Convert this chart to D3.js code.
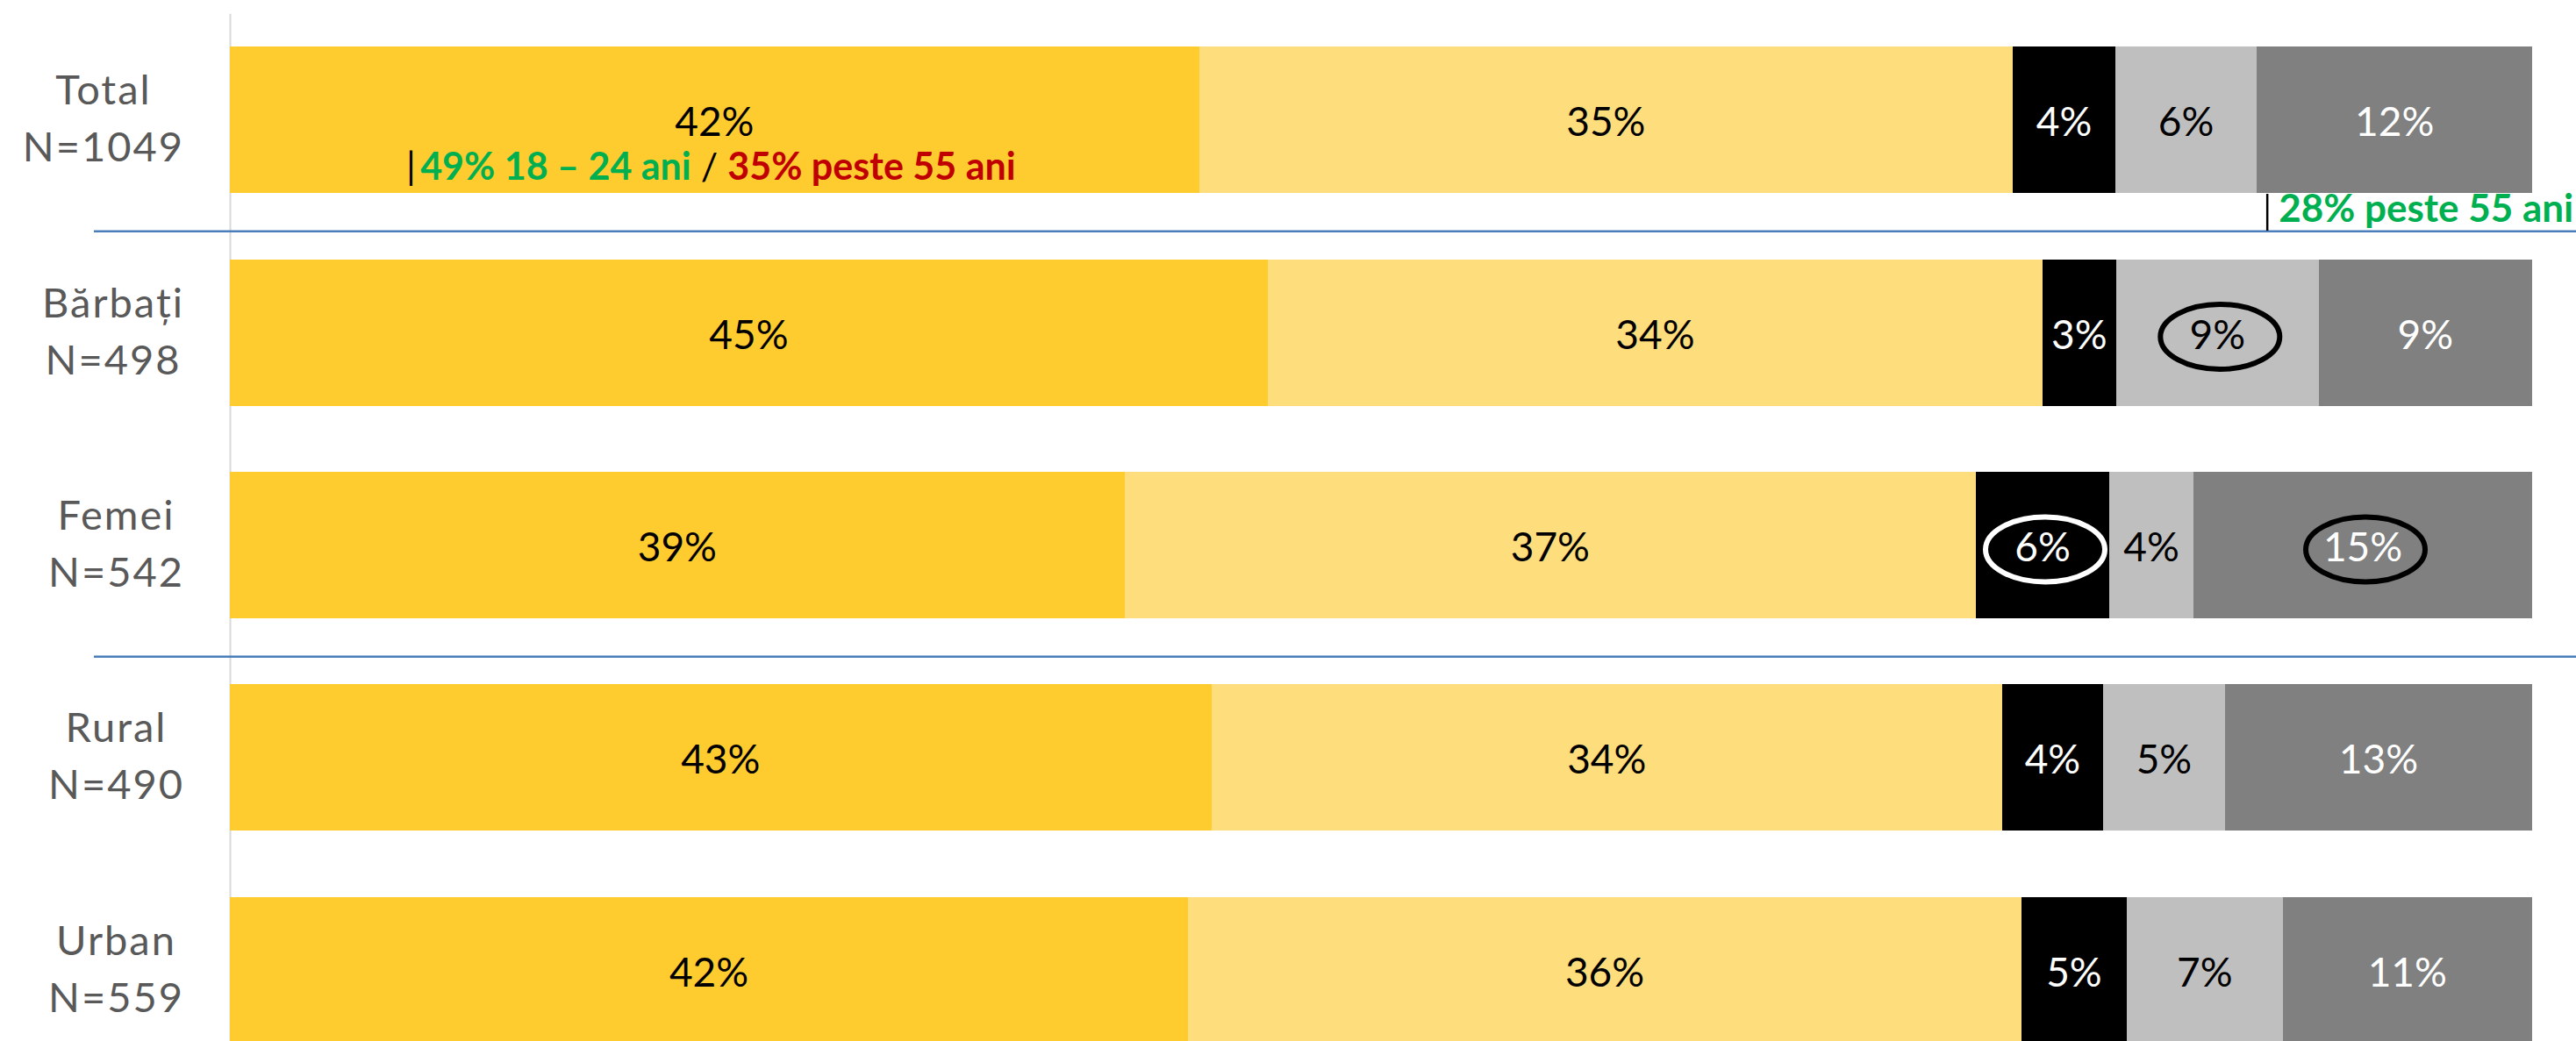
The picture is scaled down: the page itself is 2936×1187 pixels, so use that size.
<!DOCTYPE html>
<html><head><meta charset="utf-8">
<script src="https://cdn.jsdelivr.net/npm/d3@7"></script>
<style>html,body{margin:0;padding:0;background:#fff;} svg{display:block;}</style>
</head><body><svg id="c" width="2936" height="1187"></svg>
<script>
// ---- data ----
const categories = ["Total", "Bărbați", "Femei", "Rural", "Urban"];
const sampleSizes = ["N=1049", "N=498", "N=542", "N=490", "N=559"];
const seriesKeys = ["s1", "s2", "s3", "s4", "s5"];
const s1 = [42.10, 45.08, 38.86, 42.63, 41.62];
const s2 = [35.34, 33.65, 36.98, 34.35, 36.20];
const s3 = [4.46, 3.20, 5.79, 4.38, 4.57];
const s4 = [6.14, 8.80, 3.66, 5.30, 6.78];
const s5 = [11.97, 9.26, 14.71, 13.34, 10.82];
const seriesColors = ["#FECC2F", "#FEDE7C", "#000000", "#BFBFBF", "#808080"];
const labelColors = ["#000000", "#000000", "#FFFFFF", "#000000", "#FFFFFF"];
const separatorsAfter = ["Total", "Femei"];
const highlights = [
  {cat: "Bărbați", series: "s4", stroke: "#000000"},
  {cat: "Femei", series: "s3", stroke: "#FFFFFF"},
  {cat: "Femei", series: "s5", stroke: "#000000"}
];
const noteInside = [
  {text: "|\u2009", color: "#000000"},
  {text: "49% 18 – 24 ani", color: "#00B050"},
  {text: " / ", color: "#000000"},
  {text: "35% peste 55 ani", color: "#C00000"}
];
const noteBelow = "28% peste 55 ani";
const noteBelowColor = "#00B050";

// ---- build ----
const W = 2936, H = 1187;
const svg = d3.select("#c");
svg.append("rect").attr("width", W).attr("height", H).attr("fill", "#fff");

const seriesArrays = [s1, s2, s3, s4, s5];
const table = categories.map((c, i) => {
  const o = {cat: c, n: sampleSizes[i]};
  seriesKeys.forEach((k, j) => o[k] = seriesArrays[j][i]);
  return o;
});
const stacked = d3.stack().keys(seriesKeys)(table);

const x = d3.scaleLinear().domain([0, 100]).range([262, 2886]);
const y = d3.scaleBand().domain(categories).range([15.25, 1227.75])
  .paddingInner(0.3113).paddingOuter(0.1557);
const bw = y.bandwidth();
const color = d3.scaleOrdinal().domain(seriesKeys).range(seriesColors);
const lblColor = d3.scaleOrdinal().domain(seriesKeys).range(labelColors);

// axis (category axis line)
const axisG = svg.append("g").attr("transform", `translate(${x(0)},0)`)
  .call(d3.axisLeft(y).tickSize(0).tickFormat(""));
axisG.select(".domain").attr("stroke", "#D9D9D9").attr("stroke-width", 2);

// separators
separatorsAfter.forEach(c => {
  const i = categories.indexOf(c);
  const yy = (y(c) + bw + y(categories[i + 1])) / 2 + 6;
  svg.append("line").attr("x1", 107).attr("x2", W).attr("y1", yy).attr("y2", yy)
    .attr("stroke", "#4A7EBB").attr("stroke-width", 2.5);
});

// bars
const layers = svg.append("g").selectAll("g").data(stacked).join("g")
  .attr("fill", d => color(d.key));
layers.selectAll("rect").data(d => d).join("rect")
  .attr("x", d => x(d[0])).attr("y", d => y(d.data.cat))
  .attr("width", d => x(d[1]) - x(d[0])).attr("height", bw)
  .attr("shape-rendering", "crispEdges");

// value labels
const font = "Lato, 'Open Sans', sans-serif";
const lab = svg.append("g").attr("font-family", font).attr("font-size", 46).attr("text-anchor", "middle");
stacked.forEach(layer => {
  layer.forEach(d => {
    lab.append("text")
      .attr("x", (x(d[0]) + x(d[1])) / 2)
      .attr("y", y(d.data.cat) + bw / 2 + 18.5)
      .attr("fill", lblColor(layer.key))
      .text(Math.round(d.data[layer.key]) + "%");
  });
});

// highlight ellipses
highlights.forEach(h => {
  const layer = stacked.find(l => l.key === h.series);
  const d = layer.find(v => v.data.cat === h.cat);
  svg.append("ellipse")
    .attr("cx", (x(d[0]) + x(d[1])) / 2 + 3)
    .attr("cy", y(h.cat) + bw / 2 + 5)
    .attr("rx", 68).attr("ry", 37)
    .attr("fill", "none").attr("stroke", h.stroke).attr("stroke-width", 6);
});

// category labels (two lines, block right-aligned, lines centred)
const catG = svg.append("g").attr("font-family", font).attr("font-size", 47)
  .attr("fill", "#595959").attr("letter-spacing", 2).attr("text-anchor", "middle");
table.forEach(r => {
  const cy = y(r.cat) + bw / 2;
  const t1 = catG.append("text").attr("y", cy - 17.5).text(r.cat);
  const t2 = catG.append("text").attr("y", cy + 47.5).text(r.n);
  const wmax = Math.max(t1.node().getComputedTextLength(), t2.node().getComputedTextLength());
  const cx = 210 - wmax / 2;
  t1.attr("x", cx); t2.attr("x", cx);
});

// note inside Total yellow segment
const tot = stacked[0].find(v => v.data.cat === "Total");
const note = svg.append("text").attr("font-family", font).attr("font-weight", "bold")
  .attr("font-size", 43).attr("text-anchor", "middle")
  .attr("x", (x(tot[0]) + x(tot[1])) / 2 - 4)
  .attr("y", y("Total") + bw - 15);
noteInside.forEach(p => {
  note.append("tspan").attr("fill", p.color)
    .attr("font-weight", p.color === "#000000" ? "normal" : "bold")
    .text(p.text);
});

// note below Total dark-gray segment
const dg = stacked[4].find(v => v.data.cat === "Total");
const nx = x(dg[0]) + 12;
const ny = y("Total") + bw;
svg.append("line").attr("x1", nx).attr("x2", nx).attr("y1", ny + 1).attr("y2", ny + 43)
  .attr("stroke", "#000").attr("stroke-width", 2.5);
svg.append("text").attr("font-family", font).attr("font-weight", "bold").attr("font-size", 44)
  .attr("fill", noteBelowColor).attr("x", nx + 13).attr("y", ny + 33).text(noteBelow);
</script>
</body></html>
